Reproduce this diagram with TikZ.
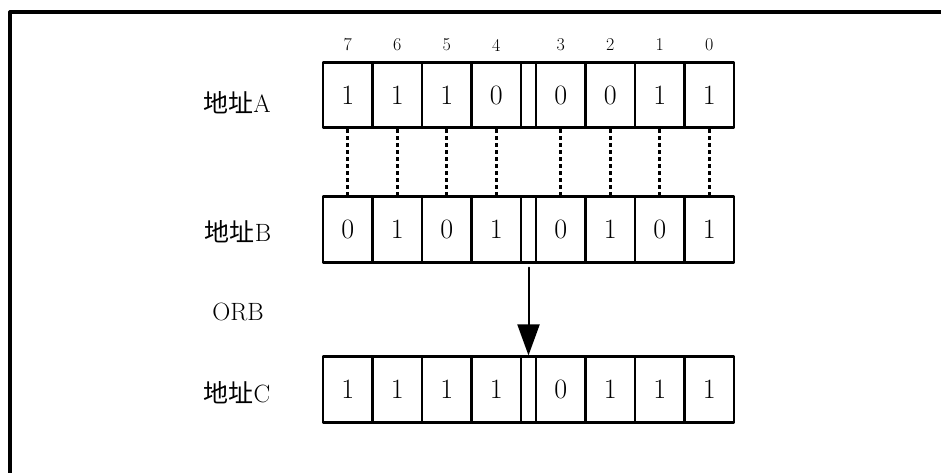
\documentclass[tikz,border=0pt]{standalone}
\usepackage{fontspec}
\newfontfamily\cjk{Noto Sans CJK SC}
\usetikzlibrary{arrows.meta}
\tikzset{
  cell/.style={draw,line width=2.6pt,minimum width=49.5pt,minimum height=65.5pt,inner sep=0pt,
    font=\fontsize{28}{30}\selectfont},
  gapcell/.style={cell,minimum width=15pt},
  bitno/.style={inner sep=0pt,font=\fontsize{18}{20}\selectfont},
  rowname/.style={inner sep=0pt,font=\fontsize{25}{27}\selectfont},
  link/.style={line width=2.8pt,dash pattern=on 4pt off 3pt},
}
\begin{document}
\begin{tikzpicture}[x=1pt,y=-1pt,line cap=round,line join=round]
  \useasboundingbox (0,0) rectangle (941,473);
  % open frame round the figure
  \draw[line width=3.2pt,line cap=butt] (10,480) -- (10,12) -- (950,12);
  \foreach \b/\va/\vb/\vc in {7/1/0/1,6/1/1/1,5/1/0/1,4/0/1/1,3/0/0/0,2/0/1/1,1/1/0/1,0/1/1/1}{
    \pgfmathsetmacro\x{\b>3 ? 347.75+49.5*(7-\b) : 560.75+49.5*(3-\b)}
    \node[bitno] (n\b) at (\x,45) {\b};
    \node[cell] (a\b) at (\x,95) {\va};
    \node[cell] (b\b) at (\x,229.5) {\vb};
    \node[cell] (c\b) at (\x,389.5) {\vc};
    \draw[link,line cap=butt] (a\b.south) -- (b\b.north);
  }
  \node[gapcell] (ga) at (528.5,95) {};
  \node[gapcell] (gb) at (528.5,229.5) {};
  \node[gapcell] (gc) at (528.5,389.5) {};
  \node[rowname] (la) at (237,103) {{\cjk 地址}A};
  \node[rowname] (lb) at (238,232) {{\cjk 地址}B};
  \node[rowname] (op) at (238,312) {ORB};
  \node[rowname] (lc) at (237,393) {{\cjk 地址}C};
  \draw[line width=2pt,shorten <=4pt,-{Triangle[width=22pt,length=31pt]}] (gb.south) -- (gc.north);
\end{tikzpicture}
\end{document}
